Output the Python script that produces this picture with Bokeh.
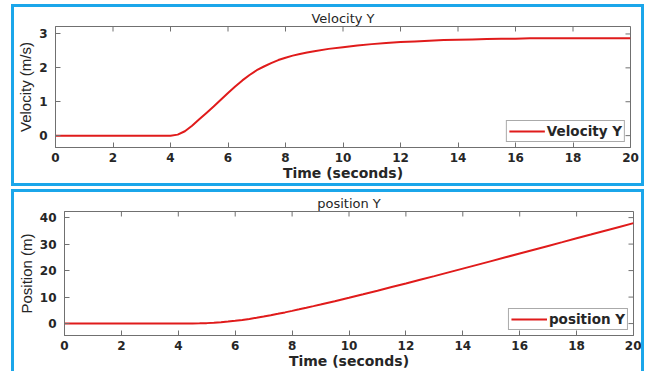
import math
from bokeh.plotting import figure
from bokeh.layouts import column
from bokeh.models import FixedTicker, Range1d
from bokeh.embed import file_html
from bokeh.resources import INLINE

time_s = [0, 0.5, 1, 1.5, 2, 2.5, 3, 3.5, 4, 4.25, 4.5, 4.75, 5, 5.25, 5.5, 5.75,
          6, 6.25, 6.5, 6.75, 7, 7.25, 7.5, 7.75, 8, 8.25, 8.5, 8.75, 9, 9.5,
          10, 10.5, 11, 11.5, 12, 12.5, 13, 13.5, 14, 14.5, 15, 15.5, 16, 16.5,
          17, 17.5, 18, 18.5, 19, 19.5, 20]
velocity_y = [0, 0, 0, 0, 0, 0, 0, 0, 0, 0.03, 0.13, 0.29, 0.48, 0.67, 0.86, 1.06,
              1.26, 1.45, 1.63, 1.79, 1.93, 2.04, 2.14, 2.23, 2.30, 2.36, 2.41, 2.45, 2.49, 2.56,
              2.61, 2.66, 2.70, 2.73, 2.76, 2.78, 2.80, 2.82, 2.83, 2.84, 2.85, 2.86, 2.86, 2.87,
              2.87, 2.87, 2.87, 2.87, 2.87, 2.87, 2.87]
position_y = [0, 0, 0, 0, 0, 0, 0, 0, 0, 0.0, 0.02, 0.08, 0.17, 0.32, 0.51, 0.75,
              1.04, 1.38, 1.76, 2.19, 2.65, 3.15, 3.67, 4.22, 4.79, 5.37, 5.97, 6.58, 7.20, 8.46,
              9.75, 11.07, 12.41, 13.77, 15.14, 16.53, 17.92, 19.33, 20.74, 22.16, 23.58, 25.01, 26.44, 27.87,
              29.31, 30.74, 32.18, 33.61, 35.05, 36.48, 37.92]

x_ticks = [0, 2, 4, 6, 8, 10, 12, 14, 16, 18, 20]
vel_ticks = [0, 1, 2, 3]
pos_ticks = [0, 10, 20, 30, 40]

BLUE = "#1ba6ea"
RED = "#e01b1b"
AXC = "#707070"
TXT = "#262626"
WIDE = "DejaVu Sans"
NARROW = "Liberation Sans"


def make_panel(title, ylabel, xs, ys, yticks, yrange, legend_label, w, h, mb, lg_margin):
    p = figure(width=w, height=h, output_backend="svg", toolbar_location=None,
               x_range=Range1d(0, 20), y_range=Range1d(*yrange),
               min_border_left=mb[0], min_border_right=mb[1],
               min_border_top=mb[2], min_border_bottom=mb[3])
    p.title.text = title
    p.title.align = "center"
    p.title.text_font = WIDE
    p.title.text_font_style = "normal"
    p.title.text_font_size = "13px"
    p.title.text_color = TXT
    p.title.standoff = 2
    p.title.offset = 0
    p.grid.visible = False
    p.outline_line_color = AXC
    p.outline_line_width = 1
    p.background_fill_color = "white"
    p.border_fill_color = "white"

    for ax in (p.xaxis[0], p.yaxis[0]):
        ax.axis_line_color = AXC
        ax.major_tick_line_color = AXC
        ax.major_tick_in = 5
        ax.major_tick_out = 0
        ax.minor_tick_line_color = None
        ax.major_label_text_font = WIDE
        ax.major_label_text_font_style = "bold"
        ax.major_label_text_font_size = "12px"
        ax.major_label_text_color = TXT
        ax.axis_label_text_color = TXT
    p.xaxis[0].ticker = FixedTicker(ticks=x_ticks)
    p.yaxis[0].ticker = FixedTicker(ticks=yticks)
    p.xaxis[0].axis_label = "Time (seconds)"
    p.xaxis[0].axis_label_text_font = WIDE
    p.xaxis[0].axis_label_text_font_style = "bold"
    p.xaxis[0].axis_label_text_font_size = "14px"
    p.xaxis[0].axis_label_standoff = 0
    p.xaxis[0].major_label_standoff = 5
    p.yaxis[0].axis_label = ylabel
    p.yaxis[0].axis_label_text_font = NARROW
    p.yaxis[0].axis_label_text_font_style = "normal"
    p.yaxis[0].axis_label_text_font_size = "15px"
    p.yaxis[0].axis_label_standoff = 2
    p.yaxis[0].major_label_standoff = 8

    # MATLAB-style box ticks along the top and right edges (half-clipped dashes)
    top_y = [yrange[1]] * len(x_ticks)
    p.scatter(x_ticks, top_y, marker="dash", angle=math.pi / 2, size=10,
              line_color=AXC, line_width=1)
    right_x = [20] * len(yticks)
    p.scatter(right_x, yticks, marker="dash", size=10, line_color=AXC, line_width=1)

    p.line(xs, ys, line_color=RED, line_width=2, legend_label=legend_label)
    lg = p.legend[0]
    lg.location = "bottom_right"
    lg.margin = lg_margin
    lg.padding = 2
    lg.spacing = 0
    lg.label_text_font = WIDE
    lg.label_text_font_style = "bold"
    lg.label_text_font_size = "13.5px"
    lg.label_text_color = TXT
    lg.label_height = 12
    lg.glyph_height = 12
    lg.glyph_width = 36
    lg.label_standoff = 2
    lg.border_line_color = "#555555"
    lg.border_line_width = 1
    lg.background_fill_alpha = 1

    # blue subplot frame: a CSS outline drawn just outside the canvas
    p.styles = {"outline": f"3px solid {BLUE}", "outline-offset": "0px"}
    return p


p1 = make_panel("Velocity Y", "Velocity (m/s)", time_s, velocity_y, vel_ticks,
                (-0.35, 3.22), "Velocity Y", 627, 176, (41, 11, 16, 33), 5)
p1.margin = (7, 0, 0, 14)

p2 = make_panel("position Y", "Position (m)", time_s, position_y, pos_ticks,
                (-4.5, 42.3), "position Y", 627, 179, (48, 8, 16, 36), 5)
p2.margin = (9, 0, 0, 14)

layout = column(column(p1), column(p2), spacing=0)
open("out.html", "w").write(file_html(layout, INLINE))
